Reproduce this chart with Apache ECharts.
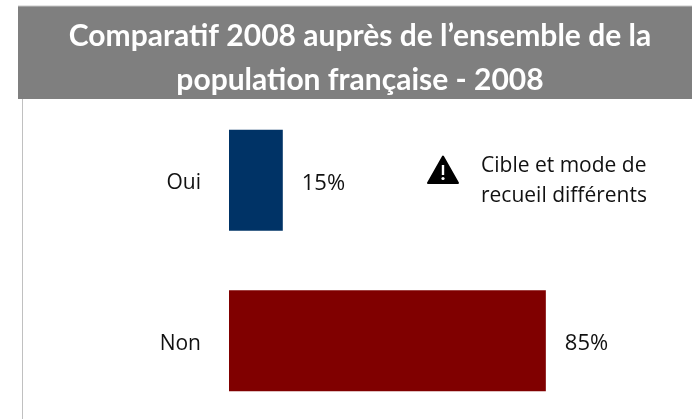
<!DOCTYPE html>
<html>
<head>
<meta charset="utf-8">
<style>
  html, body { margin: 0; padding: 0; background: #fff; overflow: hidden; }
  #chart { width: 692px; height: 425px; }
</style>
<script src="https://cdn.jsdelivr.net/npm/echarts@6/dist/echarts.min.js"></script>
</head>
<body>
<div id="chart"></div>
<script>
// donnees
let categories = ["Oui", "Non"];
let values = [14.5, 85.4];
let barColors = ["#003366", "#800000"];
let titleLines = "Comparatif 2008 auprès de l’ensemble de la\npopulation française - 2008";
let noteLines = "Cible et mode de\nrecueil différents";

let chart = echarts.init(document.getElementById("chart"), null, { renderer: "canvas" });

chart.setOption({
    animation: false,
    backgroundColor: "#fff",
    grid: { left: 229, top: 100, width: 371, height: 321 },
    xAxis: { type: "value", min: 0, max: 100, show: false },
    yAxis: {
        type: "category",
        inverse: true,
        data: categories,
        axisLine: { show: false },
        axisTick: { show: false },
        axisLabel: {
            margin: 28,
            fontFamily: "Open Sans",
            fontSize: 21,
            color: "#111",
            // petit decalage vers le bas
            formatter: (v) => "{a|" + v + "}",
            rich: { a: { fontFamily: "Open Sans", fontSize: 21, color: "#111", padding: [6, 0, 0, 0] } }
        }
    },
    series: [{
        type: "bar",
        barWidth: 101,
        data: values.map((v, i) => ({ value: v, itemStyle: { color: barColors[i] } })),
        label: {
            show: true,
            position: "right",
            distance: 19,
            offset: [0, 3],
            fontFamily: "Open Sans",
            fontSize: 22,
            color: "#111",
            formatter: (p) => Math.round(p.value) + "%"
        }
    }],
    graphic: [
        // bandeau titre
        { type: "rect", z: 10, shape: { x: 18, y: 6, width: 674, height: 93 }, style: { fill: "#7f7f7f" } },
        { type: "line", z: 10, shape: { x1: 18, y1: 6, x2: 692, y2: 6 }, style: { stroke: "#c8c8c8", lineWidth: 1 } },
        { type: "line", z: 10, shape: { x1: 22.5, y1: 99, x2: 22.5, y2: 425 }, style: { stroke: "#c0c0c0", lineWidth: 1 } },
        {
            type: "text", z: 11, x: 360, y: 58,
            style: {
                text: titleLines,
                fill: "#fff",
                font: "bold 30px Lato",
                lineHeight: 44,
                align: "center",
                verticalAlign: "middle"
            }
        },
        // avertissement
        {
            type: "polygon", z: 11,
            shape: { points: [[443, 156.5], [458, 183], [428, 183]] },
            style: { fill: "#000", stroke: "#000", lineWidth: 2, lineJoin: "round" }
        },
        { type: "rect", z: 12, shape: { x: 441.8, y: 165, width: 2.4, height: 10 }, style: { fill: "#fff" } },
        { type: "circle", z: 12, shape: { cx: 443, cy: 178.5, r: 1.6 }, style: { fill: "#fff" } },
        {
            type: "text", z: 11, x: 481, y: 181,
            style: {
                text: noteLines,
                fill: "#111",
                font: "21px 'Open Sans'",
                lineHeight: 30,
                align: "left",
                verticalAlign: "middle"
            }
        }
    ]
});
</script>
</body>
</html>
